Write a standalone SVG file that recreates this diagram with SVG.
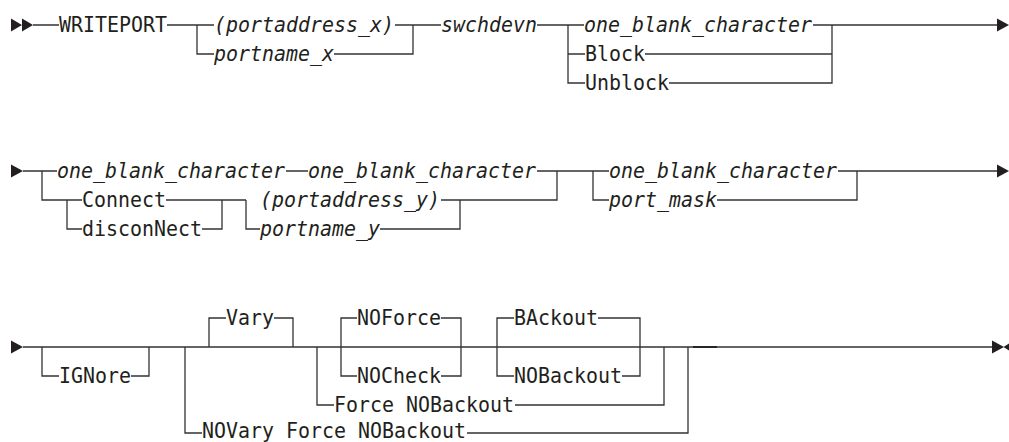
<svg xmlns="http://www.w3.org/2000/svg" width="1009" height="442" viewBox="0 0 1009 442">
<style>
.k{font-family:"DejaVu Sans Mono","Liberation Mono",monospace;font-size:21px;fill:#231f20}
.v{font-style:italic}
.c{fill:none;stroke:#333;stroke-width:1.3}
.m{fill:#231f20}
</style>
<rect width="1009" height="442" fill="#fff"/>
<g id="connectors">
<path class="c" d="M33,25H59 M167,25H214 M197,25V54H214 M395,25H441 M334,54H413V25 M537,25H584 M568,25V83H585 M568,54H585 M813,25H997 M645,54H832 M669,83H832V25"/>
<path class="c" d="M23,171H57 M42,171V200H82 M67,200V229H82 M286,171H308 M537,171H609 M557,171V200H460 M166,200H246 M202,229H222V200 M246,200V229H260 M441,200H460V229H380 M593,171V200H609 M838,171H997 M717,200H857V171"/>
<path class="c" d="M23,347H993 M42,347V376H59 M131,376H149V347 M185,347V433H202 M467,433H688V347 M209,347V318H226 M274,318H293V347 M317,347V405H334 M515,405H664V347 M357,318H341V376H357 M441,318H461V376H441 M514,318H497V376H514 M598,318H640V376H622"/>
<path d="M693,347H717" fill="none" stroke="#231f20" stroke-width="1.8"/>
</g>
<g id="markers">
<path class="m" d="M11,18.5L22,25L11,31.5Z M22,18.5L33,25L22,31.5Z"/>
<path class="m" d="M997,18.5L1009,25L997,31.5Z"/>
<path class="m" d="M11,164.5L23,171L11,177.5Z"/>
<path class="m" d="M997,164.5L1009,171L997,177.5Z"/>
<path class="m" d="M11,340.5L23,347L11,353.5Z"/>
<path class="m" d="M992,340.5L1004,347L992,353.5Z M1009,343.5L1003.5,347L1009,350.5Z"/>
</g>
<g id="writeport"><text class="k" x="59" y="32" textLength="108" lengthAdjust="spacingAndGlyphs">WRITEPORT</text></g>
<g id="portaddress_x"><text class="k v" x="214" y="32" textLength="180" lengthAdjust="spacingAndGlyphs">(portaddress_x)</text></g>
<g id="portname_x"><text class="k v" x="214" y="61" textLength="120" lengthAdjust="spacingAndGlyphs">portname_x</text></g>
<g id="swchdevn"><text class="k v" x="441" y="32" textLength="96" lengthAdjust="spacingAndGlyphs">swchdevn</text></g>
<g id="blank1"><text class="k v" x="584" y="32" textLength="228" lengthAdjust="spacingAndGlyphs">one_blank_character</text></g>
<g id="block"><text class="k" x="585" y="61" textLength="60" lengthAdjust="spacingAndGlyphs">Block</text></g>
<g id="unblock"><text class="k" x="585" y="90" textLength="84" lengthAdjust="spacingAndGlyphs">Unblock</text></g>
<g id="blank2"><text class="k v" x="57" y="178" textLength="228" lengthAdjust="spacingAndGlyphs">one_blank_character</text></g>
<g id="blank3"><text class="k v" x="308" y="178" textLength="228" lengthAdjust="spacingAndGlyphs">one_blank_character</text></g>
<g id="connect"><text class="k" x="82" y="207" textLength="84" lengthAdjust="spacingAndGlyphs">Connect</text></g>
<g id="disconnect"><text class="k" x="82" y="236" textLength="120" lengthAdjust="spacingAndGlyphs">disconNect</text></g>
<g id="portaddress_y"><text class="k v" x="260" y="207" textLength="180" lengthAdjust="spacingAndGlyphs">(portaddress_y)</text></g>
<g id="portname_y"><text class="k v" x="260" y="236" textLength="120" lengthAdjust="spacingAndGlyphs">portname_y</text></g>
<g id="blank4"><text class="k v" x="609" y="178" textLength="228" lengthAdjust="spacingAndGlyphs">one_blank_character</text></g>
<g id="port_mask"><text class="k v" x="609" y="207" textLength="108" lengthAdjust="spacingAndGlyphs">port_mask</text></g>
<g id="ignore"><text class="k" x="59" y="383" textLength="72" lengthAdjust="spacingAndGlyphs">IGNore</text></g>
<g id="vary"><text class="k" x="226" y="325" textLength="48" lengthAdjust="spacingAndGlyphs">Vary</text></g>
<g id="novary"><text class="k" x="202" y="438" textLength="264" lengthAdjust="spacingAndGlyphs">NOVary Force NOBackout</text></g>
<g id="force"><text class="k" x="334" y="412" textLength="180" lengthAdjust="spacingAndGlyphs">Force NOBackout</text></g>
<g id="noforce"><text class="k" x="357" y="325" textLength="84" lengthAdjust="spacingAndGlyphs">NOForce</text></g>
<g id="nocheck"><text class="k" x="357" y="383" textLength="84" lengthAdjust="spacingAndGlyphs">NOCheck</text></g>
<g id="backout"><text class="k" x="514" y="325" textLength="84" lengthAdjust="spacingAndGlyphs">BAckout</text></g>
<g id="nobackout"><text class="k" x="514" y="383" textLength="108" lengthAdjust="spacingAndGlyphs">NOBackout</text></g>
</svg>
